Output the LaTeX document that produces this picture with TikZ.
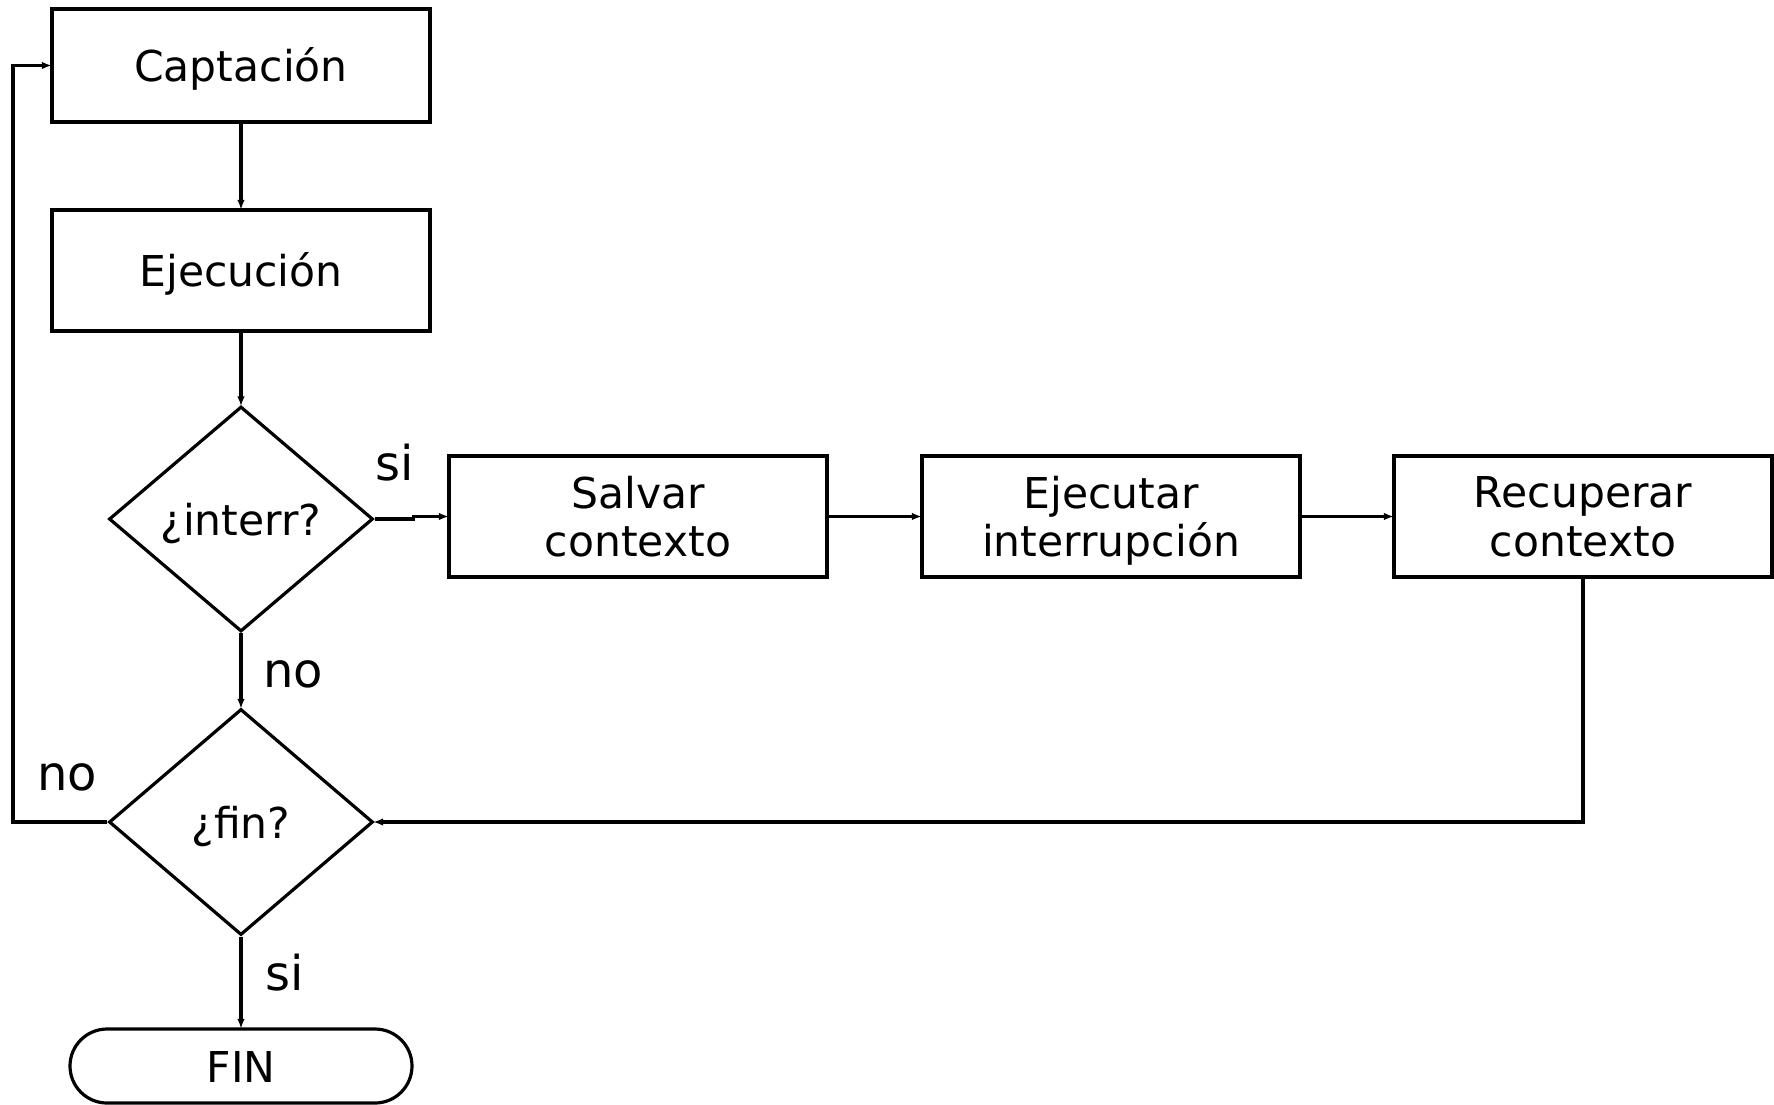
\documentclass[tikz,border=0pt]{standalone}
\usepackage{fontspec}
\setmainfont{DejaVu Sans}
\usetikzlibrary{arrows.meta,shapes.geometric,shapes.misc}
% second line of a box, with its descender kept out of the centring
\newcommand{\lastline}[1]{\raisebox{0pt}[\height][0pt]{#1}}
\begin{document}
\begin{tikzpicture}[x=1pt,y=-1pt,
  boxfont/.style={font=\fontsize{42.5}{48.5}\selectfont},
  oneline/.style={text height=32pt,text depth=0pt},
  proc/.style={draw,line width=3.2pt,minimum width=378pt,minimum height=121pt,
    inner sep=0pt,align=center,boxfont},
  decision/.style={draw,diamond,line width=3.2pt,minimum width=264pt,minimum height=226pt,
    inner sep=0pt,boxfont,oneline},
  terminal/.style={draw,rounded rectangle,line width=3.2pt,minimum width=342pt,minimum height=74pt,
    inner sep=0pt,boxfont,oneline},
  lbl/.style={anchor=base,inner sep=0pt,font=\fontsize{48}{52}\selectfont},
  flow/.style={line width=3.1pt,shorten >=-1.5pt,-{Latex[length=10pt,width=7.5pt]}}]
\fill[white] (0,0) rectangle (1774,1104);
\useasboundingbox (0,0) rectangle (1774,1104);

% main column
\node[proc,oneline,minimum height=113pt] (cap) at (241,65.5) {Captación};
\node[proc,oneline] (eje) at (241,270.5) {Ejecución};
\node[decision,minimum height=225pt] (dint) at (241,519) {¿interr?};
\node[decision] (dfin) at (241,822) {¿fin?};
\node[terminal] (fin) at (241,1066) {FIN};

% interrupt handling row
\node[proc] (salvar) at (638,516.5) {Salvar\\\lastline{contexto}};
\node[proc] (ejint) at (1111,516.5) {Ejecutar\\\lastline{interrupción}};
\node[proc] (recup) at (1583,516.5) {Recuperar\\\lastline{contexto}};

% branch labels
\node[lbl] (lsi1) at (395,480) {si};
\node[lbl] (lno1) at (293,687) {no};
\node[lbl] (lno2) at (67,790) {no};
\node[lbl] (lsi2) at (285,990) {si};

% connectors
\draw[flow] (cap.south) -- (eje.north);
\draw[flow] (eje.south) -- (dint.north);
\path (dint.east) ++(39,0) coordinate (jog);
\draw[flow] (dint.east) -- (jog) |- (salvar.west);
\draw[flow] (salvar.east) -- (ejint.west);
\draw[flow] (ejint.east) -- (recup.west);
\draw[flow] (recup.south) |- (dfin.east);
\draw[flow] (dint.south) -- (dfin.north);
\draw[flow] (dfin.south) -- (fin.north);
\coordinate (loop) at (13,822);
\draw[flow] (dfin.west) -- (loop) |- (cap.west);
\end{tikzpicture}
\end{document}
